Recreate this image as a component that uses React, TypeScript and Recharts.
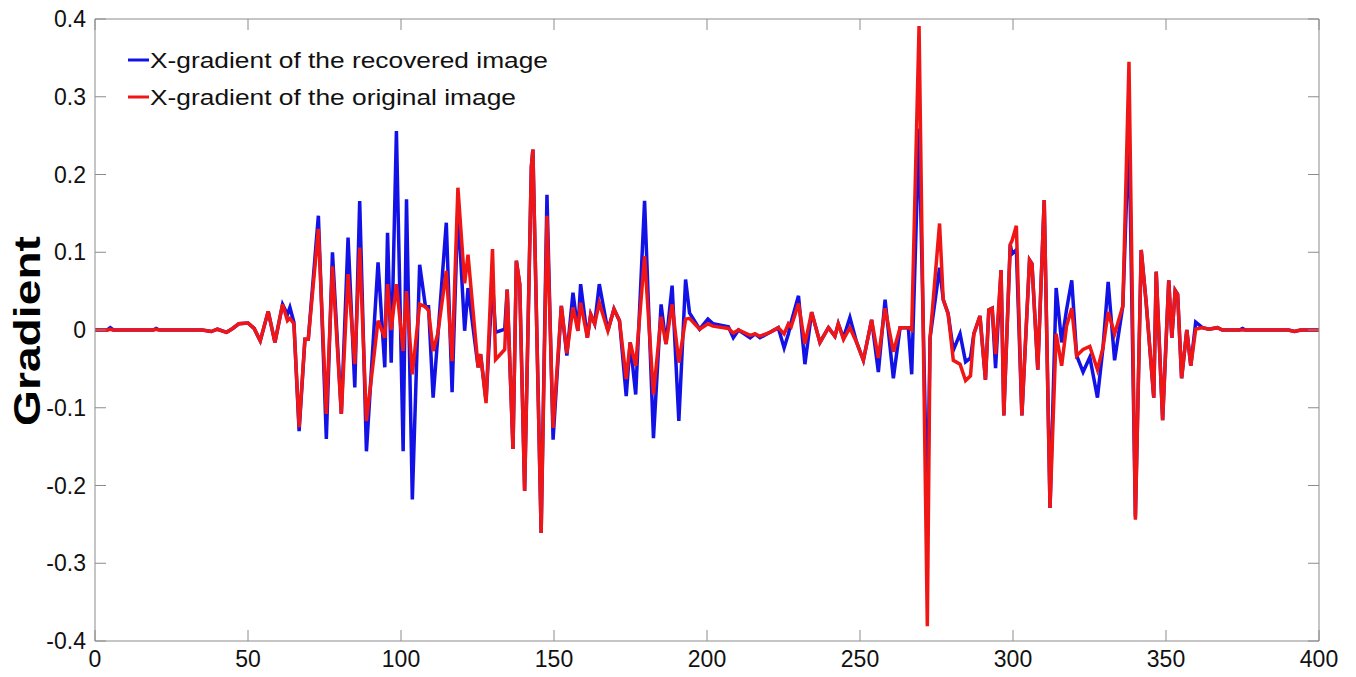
import { Line, LineChart, XAxis, YAxis } from "recharts"

// sample positions (x) and the two gradient traces
const xs = [
  0, 4, 5, 6, 19, 20, 21, 35, 38, 40, 43, 45, 47, 50, 52, 54, 56.6, 58.8, 61.3, 62.9,
  63.7, 65, 66.7, 68.6, 69.7, 73, 75.6, 77.6, 80.5, 82.7, 84.9, 86.5, 88.7, 92.5, 94.7, 95.6,
  96.8, 98.5, 100.7, 101.8, 103.7, 106.1, 108, 109, 110.5, 112, 114.8, 116.7, 118.6, 120.8, 121.9, 125.2,
  126, 127.8, 129.9, 130.9, 133.9, 134.7, 136.6, 137.7, 138.8, 140.4, 142.6, 143.1, 145.8, 147.7, 149.7, 152.4,
  154.2, 156.2, 157.8, 158.7, 160.9, 162, 163.3, 164.8, 167.6, 169.6, 171.4, 173.6, 174.9, 176.7, 179.6, 182.5,
  185, 186.6, 188.6, 190.8, 193, 194.3, 197.6, 200.3, 202, 207, 208.6, 210.3, 214.1, 215.7, 217.3, 220.6,
  223.3, 225.2, 226.6, 227.5, 229.9, 232, 234.2, 236.9, 239.7, 241.8, 242.9, 244.6, 246.7, 248.9, 251.1, 253.8,
  256, 258.2, 260.9, 263.1, 265.8, 266.9, 269.3, 272, 272.9, 276, 277.2, 278.8, 280.5, 282.7, 284.5, 286.1,
  287.2, 289.2, 291, 292.1, 293.2, 294.3, 296.1, 297, 299.1, 299.7, 301.1, 302.9, 305.4, 306.2, 308.1, 310.2,
  312.1, 314.1, 315.9, 317.5, 319.2, 320.8, 322.9, 325.1, 327.6, 329.4, 331.1, 333.2, 335.9, 337.9, 340, 341.9,
  343.5, 346, 346.8, 348.9, 350.9, 351.9, 353, 353.8, 355.1, 356.8, 358.1, 359.7, 361.9, 364, 366.8, 368.4,
  374, 375, 376, 390, 392, 394, 400,
]

const recovered = [
  0, 0, 0.003, 0, 0, 0.002, 0, 0, -0.002, 0.001, -0.003, 0.002, 0.008, 0.009, 0.002, -0.014, 0.024, -0.016, 0.033, 0.02,
  0.029, 0.01, -0.13, -0.012, -0.012, 0.147, -0.14, 0.1, -0.108, 0.119, -0.074, 0.166, -0.156, 0.087, -0.048, 0.125,
  -0.042, 0.256, -0.156, 0.168, -0.218, 0.084, 0.03, 0.03, -0.087, -0.01, 0.138, -0.08, 0.157, -0.001, 0.054, -0.048,
  -0.031, -0.091, 0.063, -0.003, 0.001, 0.052, -0.153, 0.089, 0.059, -0.207, 0.21, 0.232, -0.261, 0.174, -0.141, 0.031,
  -0.033, 0.048, -0.001, 0.059, -0.01, 0.02, 0.008, 0.059, -0.001, 0.027, 0.012, -0.085, -0.016, -0.083, 0.166, -0.139,
  0.033, -0.018, 0.057, -0.117, 0.065, 0.022, 0.001, 0.014, 0.008, 0.004, -0.01, 0, -0.01, -0.005, -0.01, -0.003,
  0.003, -0.023, -0.005, 0.01, 0.044, -0.044, 0.023, -0.016, 0.003, -0.008, 0.008, -0.01, 0.016, -0.016, -0.039, 0.013,
  -0.054, 0.039, -0.062, 0.003, 0.003, -0.057, 0.259, -0.24, -0.01, 0.08, 0.039, 0.021, -0.026, -0.005, -0.041, -0.036,
  -0.005, 0.018, -0.064, 0.026, 0.028, -0.049, 0.077, -0.11, 0.11, 0.098, 0.103, -0.11, 0.09, 0.085, -0.051, 0.167,
  -0.229, 0.054, -0.016, 0.026, 0.064, -0.033, -0.054, -0.035, -0.087, -0.023, 0.062, -0.039, 0.031, 0.26, -0.24, 0.103,
  0.036, -0.087, 0.075, -0.116, 0.064, -0.01, 0.051, 0.046, -0.062, 0, -0.046, 0.01, 0.003, 0.001, 0.003, 0,
  0, 0.002, 0, 0, -0.002, 0, 0,
]

const original = [
  0, 0, 0.001, 0, 0, 0.001, 0, 0, -0.002, 0.001, -0.003, 0.002, 0.008, 0.009, 0.002, -0.014, 0.024, -0.016, 0.033, 0.012,
  0.015, 0.008, -0.125, -0.012, -0.012, 0.13, -0.108, 0.082, -0.108, 0.072, -0.044, 0.106, -0.117, 0.012, -0.01, 0.059,
  0, 0.059, -0.027, 0.05, -0.057, 0.033, 0.03, 0.025, -0.027, -0.005, 0.076, -0.04, 0.183, 0.06, 0.097, -0.048,
  -0.031, -0.094, 0.104, -0.038, -0.025, 0.052, -0.153, 0.089, 0.059, -0.207, 0.21, 0.232, -0.261, 0.147, -0.126, 0.031,
  -0.03, 0.029, -0.001, 0.035, -0.01, 0.02, 0.008, 0.035, -0.001, 0.027, 0.012, -0.063, -0.016, -0.046, 0.095, -0.083,
  0.017, -0.018, 0.033, -0.042, 0.014, 0.015, 0.001, 0.008, 0.005, 0.002, -0.004, 0, -0.007, -0.005, -0.008, -0.003,
  0.003, -0.005, 0.008, 0.004, 0.034, -0.018, 0.023, -0.016, 0.003, -0.008, 0.008, -0.012, 0.003, -0.016, -0.039, 0.013,
  -0.036, 0.028, -0.028, 0.003, 0.003, 0, 0.391, -0.381, -0.01, 0.137, 0.039, 0.021, -0.039, -0.044, -0.065, -0.059,
  -0.005, 0.018, -0.064, 0.026, 0.028, -0.031, 0.077, -0.11, 0.11, 0.115, 0.134, -0.11, 0.09, 0.085, -0.051, 0.167,
  -0.229, -0.005, -0.046, 0.005, 0.028, -0.033, -0.025, -0.021, -0.051, -0.023, 0.023, -0.005, 0.031, 0.345, -0.244, 0.103,
  0.036, -0.087, 0.075, -0.116, 0.064, -0.01, 0.051, 0.046, -0.062, 0, -0.046, 0.001, 0.003, 0.001, 0.003, 0,
  0, 0, 0, 0, -0.002, 0, 0,
]

const xTicks = [0, 50, 100, 150, 200, 250, 300, 350, 400]
const yTicks = [-0.4, -0.3, -0.2, -0.1, 0, 0.1, 0.2, 0.3, 0.4]

const seriesNames = [
  "X-gradient of the recovered image",
  "X-gradient of the original image",
]

const data = xs.map((x, i) => ({ x, recovered: recovered[i], original: original[i] }))

const FONT = "'Liberation Sans', Arial, Helvetica, sans-serif"
const FRAME = "#8c8c8c"
const BLUE = "#1212e6"
const RED = "#f01616"
// negative tick size -> ticks point into the plot, like the MATLAB box
const TICK = -11

const fmtY = (v: number) => (Math.abs(v) < 1e-9 ? "0" : v.toFixed(1))

function BottomTick({ x, y, payload }: any) {
  return (
    <text x={x} y={y + 11 + 26} textAnchor="middle" fontSize={23} fontFamily={FONT} fill="#111">
      {payload.value}
    </text>
  )
}

function LeftTick({ x, y, payload }: any) {
  return (
    <text x={x - 11 - 9} y={y + 8} textAnchor="end" fontSize={23} fontFamily={FONT} fill="#111">
      {fmtY(payload.value)}
    </text>
  )
}

const NoLabel = () => <g />

export default function App() {
  return (
    <div style={{ position: "absolute", left: 0, top: 0, width: 1356, height: 677, background: "#fff" }}>
      <LineChart
        width={1356}
        height={677}
        data={data}
        margin={{ top: 18, right: 36, bottom: 0, left: 35 }}
      >
        <XAxis
          dataKey="x"
          type="number"
          domain={[0, 400]}
          ticks={xTicks}
          interval={0}
          height={36}
          tickSize={TICK}
          tickMargin={0}
          tickLine={{ stroke: FRAME }}
          axisLine={{ stroke: FRAME }}
          tick={<BottomTick />}
        />
        <XAxis
          xAxisId="top"
          orientation="top"
          dataKey="x"
          type="number"
          domain={[0, 400]}
          ticks={xTicks}
          interval={0}
          height={1}
          tickSize={TICK}
          tickMargin={0}
          tickLine={{ stroke: FRAME }}
          axisLine={{ stroke: FRAME }}
          tick={<NoLabel />}
        />
        <YAxis
          type="number"
          domain={[-0.4, 0.4]}
          ticks={yTicks}
          interval={0}
          width={60}
          tickSize={TICK}
          tickMargin={0}
          tickLine={{ stroke: FRAME }}
          axisLine={{ stroke: FRAME }}
          tick={<LeftTick />}
        />
        <YAxis
          yAxisId="right"
          orientation="right"
          type="number"
          domain={[-0.4, 0.4]}
          ticks={yTicks}
          interval={0}
          width={1}
          tickSize={TICK}
          tickMargin={0}
          tickLine={{ stroke: FRAME }}
          axisLine={{ stroke: FRAME }}
          tick={<NoLabel />}
        />
        <Line
          dataKey="recovered"
          name={seriesNames[0]}
          type="linear"
          stroke={BLUE}
          strokeWidth={3.5}
          dot={false}
          isAnimationActive={false}
        />
        <Line
          xAxisId="top"
          yAxisId="right"
          dataKey="original"
          name={seriesNames[1]}
          type="linear"
          stroke={RED}
          strokeWidth={3.5}
          dot={false}
          isAnimationActive={false}
        />
      </LineChart>
      {/* legend and axis title, drawn over the chart */}
      <svg
        width={1356}
        height={677}
        style={{ position: "absolute", left: 0, top: 0, pointerEvents: "none" }}
      >
        <text
          transform="translate(40 331) rotate(-90)"
          textAnchor="middle"
          fontSize={36}
          fontWeight="bold"
          fontFamily={FONT}
          textLength={190}
          lengthAdjust="spacingAndGlyphs"
          fill="#000"
        >
          Gradient
        </text>
        <line x1={128} y1={60} x2={149} y2={60} stroke={BLUE} strokeWidth={3} />
        <text x={150} y={68} fontSize={22} fontFamily={FONT} textLength={398} lengthAdjust="spacingAndGlyphs" fill="#111">
          {seriesNames[0]}
        </text>
        <line x1={128} y1={97} x2={149} y2={97} stroke={RED} strokeWidth={3} />
        <text x={150} y={105} fontSize={22} fontFamily={FONT} textLength={366} lengthAdjust="spacingAndGlyphs" fill="#111">
          {seriesNames[1]}
        </text>
      </svg>
    </div>
  )
}
